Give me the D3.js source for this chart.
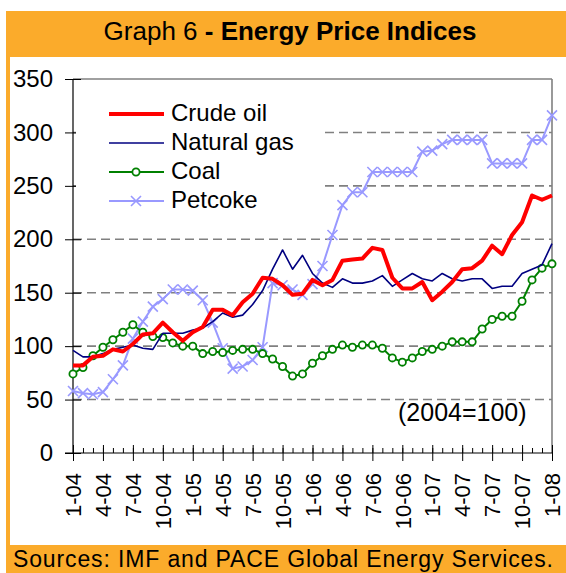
<!DOCTYPE html>
<html>
<head>
<meta charset="utf-8">
<script src="https://cdn.jsdelivr.net/npm/d3@7"></script>
<style>
  body { margin: 0; background: white; }
  svg { font-family: "Liberation Sans", Arial, sans-serif; display: block; }
</style>
</head>
<body>
<div id="graf"></div>
<script>
// meses ene-2004 .. ene-2008
const meses = [
  "1-04", "2-04", "3-04", "4-04", "5-04", "6-04", "7-04", "8-04", "9-04", "10-04", "11-04", "12-04",
  "1-05", "2-05", "3-05", "4-05", "5-05", "6-05", "7-05", "8-05", "9-05", "10-05", "11-05", "12-05",
  "1-06", "2-06", "3-06", "4-06", "5-06", "6-06", "7-06", "8-06", "9-06", "10-06", "11-06", "12-06",
  "1-07", "2-07", "3-07", "4-07", "5-07", "6-07", "7-07", "8-07", "9-07", "10-07", "11-07", "12-07",
  "1-08",
]
const etiquetasX = meses.filter((m) => ["1", "4", "7", "10"].includes(m.split("-")[0]))
const ticksY = [0, 50, 100, 150, 200, 250, 300, 350]

const crudo = [
  82, 82, 90, 91, 97, 95, 102, 111, 112, 122, 113, 105,
  113, 118, 134, 134, 129, 141, 149, 164, 163, 157, 148, 149,
  162, 157, 162, 180, 181, 182, 192, 190, 164, 154, 154, 160,
  143, 151, 160, 172, 173, 180, 194, 186, 204, 216, 241, 237,
  241,
]
const gas = [
  96, 90, 90, 93, 97, 99, 101, 98, 97, 112, 112, 112,
  115, 117, 123, 131, 127, 129, 139, 152, 172, 190, 172, 185,
  168, 159, 155, 163, 159, 159, 161, 166, 156, 162, 168, 163,
  161, 168, 163, 161, 163, 163, 154, 156, 156, 168, 172, 176,
  196,
]
const carbon = [
  74, 80, 91, 99, 106, 113, 120, 113, 109, 108, 103, 100,
  100, 93, 95, 94, 96, 97, 97, 93, 88, 81, 72, 74,
  84, 91, 97, 101, 99, 101, 101, 98, 89, 85, 89, 95,
  97, 100, 104, 104, 104, 116, 125, 128, 128, 142, 162, 173,
  177,
]
const petcoke = [
  58, 56, 55, 57, 69, 82, 107, 123, 137, 144, 153, 153,
  152, 143, 122, 98, 79, 81, 87, 99, 159, 157, 153, 148,
  158, 175, 204, 232, 244, 244, 263, 263, 263, 263, 263, 282,
  283, 289, 293, 293, 293, 293, 271, 271, 271, 271, 293, 293,
  316,
]

const series = [
  { nombre: "Crude oil", valores: crudo, color: "#ff0000", grosor: 4, marca: null },
  { nombre: "Natural gas", valores: gas, color: "#000080", grosor: 1.6, marca: null },
  { nombre: "Coal", valores: carbon, color: "#008000", grosor: 2, marca: "circulo" },
  { nombre: "Petcoke", valores: petcoke, color: "#9999ff", grosor: 2, marca: "cruz" },
]

const naranja = "#fbab2b"
const anchoTotal = 566
const altoTotal = 573

const margins = { top: 79, right: 14, bottom: 120, left: 73 }
const ancho = anchoTotal - margins.left - margins.right
const alto = altoTotal - margins.top - margins.bottom

const svg = d3
  .select("#graf")
  .append("svg")
  .attr("width", anchoTotal)
  .attr("height", altoTotal)

// marco naranja
svg.append("rect").attr("x", 6).attr("y", 11).attr("width", 560).attr("height", 46).attr("fill", naranja)
svg.append("rect").attr("x", 6).attr("y", 11).attr("width", 4).attr("height", 562).attr("fill", naranja)
svg.append("rect").attr("x", 6).attr("y", 545).attr("width", 560).attr("height", 28).attr("fill", naranja)

const titulo = svg
  .append("text")
  .attr("x", 290)
  .attr("y", 40)
  .attr("text-anchor", "middle")
  .attr("font-size", 26)
titulo.append("tspan").text("Graph 6 ")
titulo.append("tspan").attr("font-weight", "bold").text("- Energy Price Indices")

svg
  .append("text")
  .attr("x", 13)
  .attr("y", 567)
  .attr("font-size", 23)
  .attr("textLength", 540)
  .attr("lengthAdjust", "spacing")
  .text("Sources: IMF and PACE Global Energy Services.")

const g = svg.append("g").attr("transform", `translate(${margins.left}, ${margins.top})`)

const x = d3.scalePoint().domain(meses).range([0, ancho])
const y = d3.scaleLinear().domain([0, 350]).range([alto, 0])

// rejilla
g.selectAll(".grid")
  .data(ticksY.filter((d) => d > 0 && d < 350))
  .enter()
  .append("line")
  .attr("x1", 0)
  .attr("x2", ancho)
  .attr("y1", (d) => y(d))
  .attr("y2", (d) => y(d))
  .attr("stroke", "#808080")
  .attr("stroke-width", 1.6)
  .attr("stroke-dasharray", "9,5")

// borde superior y derecho
g.append("line").attr("x1", 0).attr("x2", ancho).attr("y1", 0).attr("y2", 0).attr("stroke", "#808080").attr("stroke-width", 1.6)
g.append("line").attr("x1", ancho).attr("x2", ancho).attr("y1", 0).attr("y2", alto).attr("stroke", "#808080").attr("stroke-width", 1.6)

// ejes
const ejeY = g.append("g").call(d3.axisLeft(y).tickValues(ticksY).tickSize(8).tickPadding(12))
ejeY.selectAll(".tick line").attr("x1", 8).attr("x2", -8)
ejeY.selectAll("text").attr("font-size", 24).attr("fill", "black").attr("font-family", "Liberation Sans, Arial, sans-serif")
ejeY.select(".domain").attr("d", `M0,0V${alto}`).attr("stroke-width", 1.2)

const ejeMenor = g
  .append("g")
  .attr("transform", `translate(0, ${alto})`)
  .call(d3.axisBottom(x).tickValues(meses).tickSize(-5).tickFormat(""))
ejeMenor.select(".domain").remove()

const ejeX = g
  .append("g")
  .attr("transform", `translate(0, ${alto})`)
  .call(d3.axisBottom(x).tickValues(etiquetasX).tickSize(8))
ejeX.selectAll(".tick line").attr("y1", -8).attr("y2", 8)
ejeX.select(".domain").attr("d", `M-8,0H${ancho}`).attr("stroke-width", 1.2)
ejeX
  .selectAll("text")
  .attr("font-size", 22)
  .attr("fill", "black")
  .attr("font-family", "Liberation Sans, Arial, sans-serif")
  .attr("transform", "rotate(-90)")
  .attr("x", -20)
  .attr("y", 0)
  .attr("dy", "0.35em")
  .style("text-anchor", "end")

// leyenda
const leyenda = svg.append("g")
leyenda.append("rect").attr("x", 76).attr("y", 86).attr("width", 244).attr("height", 138).attr("fill", "white")
const filas = leyenda
  .selectAll(".fila")
  .data(series)
  .enter()
  .append("g")
  .attr("transform", (d, i) => `translate(109, ${114 + i * 29})`)
filas
  .append("line")
  .attr("x1", 0)
  .attr("x2", 55)
  .attr("stroke", (d) => d.color)
  .attr("stroke-width", (d) => d.grosor)
filas
  .append("text")
  .attr("x", 62)
  .attr("dy", "0.3em")
  .attr("font-size", 24)
  .text((d) => d.nombre)

svg
  .append("text")
  .attr("x", 398)
  .attr("y", 421)
  .attr("font-size", 25)
  .text("(2004=100)")

// lineas
const linea = d3
  .line()
  .x((d, i) => x(meses[i]))
  .y((d) => y(d))

const capas = g
  .selectAll(".serie")
  .data(series.slice().reverse())
  .enter()
  .append("g")

capas
  .append("path")
  .attr("d", (d) => linea(d.valores))
  .attr("fill", "none")
  .attr("stroke", (d) => d.color)
  .attr("stroke-width", (d) => d.grosor)
  .attr("stroke-linejoin", "round")

const dibujarMarcas = (sel, d) => {
  if (d.marca === "circulo") {
    sel
      .selectAll("circle")
      .data(d.valores)
      .enter()
      .append("circle")
      .attr("cx", (v, i) => x(meses[i]))
      .attr("cy", (v) => y(v))
      .attr("r", 3.6)
      .attr("fill", "white")
      .attr("stroke", d.color)
      .attr("stroke-width", 1.8)
  } else if (d.marca === "cruz") {
    sel
      .selectAll("path.cruz")
      .data(d.valores)
      .enter()
      .append("path")
      .attr("class", "cruz")
      .attr("transform", (v, i) => `translate(${x(meses[i])}, ${y(v)})`)
      .attr("d", "M-5,-5L5,5M-5,5L5,-5")
      .attr("stroke", d.color)
      .attr("stroke-width", 1.6)
  }
}
capas.each(function (d) {
  dibujarMarcas(d3.select(this), d)
})

// marcas de la leyenda
filas.each(function (d) {
  const f = d3.select(this)
  if (d.marca === "circulo") {
    f.append("circle").attr("cx", 27).attr("r", 3.6).attr("fill", "white").attr("stroke", d.color).attr("stroke-width", 1.8)
  } else if (d.marca === "cruz") {
    f.append("path").attr("d", "M22,-5L32,5M22,5L32,-5").attr("stroke", d.color).attr("stroke-width", 1.6)
  }
})
</script>
</body>
</html>
